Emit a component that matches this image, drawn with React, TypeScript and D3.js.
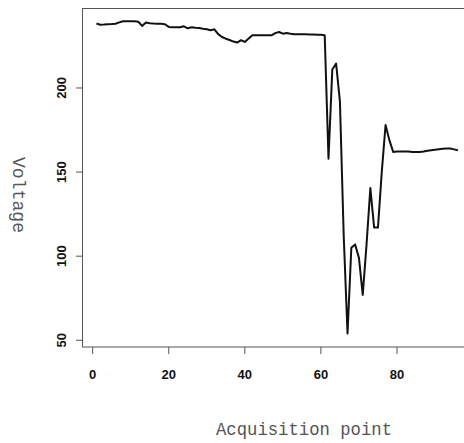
import { useEffect, useRef } from 'react';
import * as d3 from 'd3';

// voltage readings, one per acquisition point (1..96)
const voltage = [
  238.3, 237.6, 237.7, 237.9, 238.0, 238.2, 239.0, 239.7, 239.7, 239.7,
  239.7, 239.4, 236.9, 238.9, 238.5, 238.3, 238.2, 238.2, 237.9, 236.3,
  236.1, 236.1, 236.1, 236.7, 235.5, 236.1, 235.8, 235.7, 235.2, 234.9,
  234.3, 234.9, 232.0, 230.3, 229.3, 228.5, 227.6, 227.0, 228.4, 227.4,
  229.4, 231.3, 231.3, 231.3, 231.3, 231.3, 231.3, 232.6, 233.3, 232.3,
  232.7, 232.3, 232.0, 232.0, 231.9, 231.9, 231.8, 231.8, 231.7, 231.6,
  231.3, 158.0, 211.0, 214.5, 192.0, 112.0, 54.0, 105.0, 107.0, 99.0,
  77.0, 107.0, 140.5, 117.0, 117.0, 150.0, 178.0, 169.0, 162.0, 162.2,
  162.3, 162.3, 162.2, 162.0, 162.0, 162.0, 162.3, 162.7, 163.0, 163.3,
  163.6, 163.8, 164.0, 164.0, 163.5, 163.0,
];
const xTicks = [0, 20, 40, 60, 80];
const yTicks = [50, 100, 150, 200];

function App() {
  const ref = useRef<SVGSVGElement>(null);

  useEffect(() => {
    const svg = d3.select(ref.current);
    svg.selectAll('*').remove();

    const x = d3.scaleLinear().domain([-2.8, 99.8]).range([82, 472.3]);
    const y = d3.scaleLinear().domain([46, 247.2]).range([347, 8.6]);

    // frame
    svg.append('rect')
      .attr('x', 82.5).attr('y', 8.5)
      .attr('width', 390).attr('height', 338.5)
      .attr('fill', 'none').attr('stroke', '#555').attr('stroke-width', 1);

    // x axis
    const gx = svg.append('g');
    gx.selectAll('line').data(xTicks).join('line')
      .attr('x1', d => x(d)).attr('x2', d => x(d))
      .attr('y1', 347).attr('y2', 354)
      .attr('stroke', '#555');
    gx.selectAll('text').data(xTicks).join('text')
      .attr('x', d => x(d)).attr('y', 379)
      .attr('text-anchor', 'middle')
      .attr('font-family', 'Liberation Sans, Arial, sans-serif')
      .attr('font-weight', 'bold').attr('font-size', 13)
      .attr('fill', '#111')
      .text(d => d);

    // y axis
    const gy = svg.append('g');
    gy.selectAll('line').data(yTicks).join('line')
      .attr('x1', 76).attr('x2', 82)
      .attr('y1', d => y(d)).attr('y2', d => y(d))
      .attr('stroke', '#555');
    gy.selectAll('text').data(yTicks).join('text')
      .attr('transform', d => `translate(66,${y(d)}) rotate(-90)`)
      .attr('text-anchor', 'middle')
      .attr('font-family', 'Liberation Sans, Arial, sans-serif')
      .attr('font-weight', 'bold').attr('font-size', 13)
      .attr('fill', '#111')
      .text(d => d);

    // series
    const line = d3.line<number>()
      .x((_, i) => x(i + 1))
      .y(d => y(d));
    svg.append('path')
      .datum(voltage)
      .attr('d', line)
      .attr('fill', 'none')
      .attr('stroke', '#111')
      .attr('stroke-width', 2)
      .attr('stroke-linejoin', 'round');

    // axis titles
    svg.append('text')
      .attr('x', 304).attr('y', 435)
      .attr('text-anchor', 'middle')
      .attr('font-family', 'Liberation Mono, monospace')
      .attr('font-size', 18)
      .attr('textLength', 176).attr('lengthAdjust', 'spacingAndGlyphs')
      .attr('fill', '#555')
      .text('Acquisition point');
    svg.append('text')
      .attr('transform', 'translate(13,195) rotate(90)')
      .attr('text-anchor', 'middle')
      .attr('font-family', 'Liberation Mono, monospace')
      .attr('font-size', 18)
      .attr('textLength', 76).attr('lengthAdjust', 'spacingAndGlyphs')
      .attr('fill', '#555')
      .text('Voltage');
  }, []);

  return (
    <svg ref={ref} width={464} height={443}
      style={{ position: 'absolute', left: 0, top: 0, background: '#fff' }} />
  );
}

export default App;
